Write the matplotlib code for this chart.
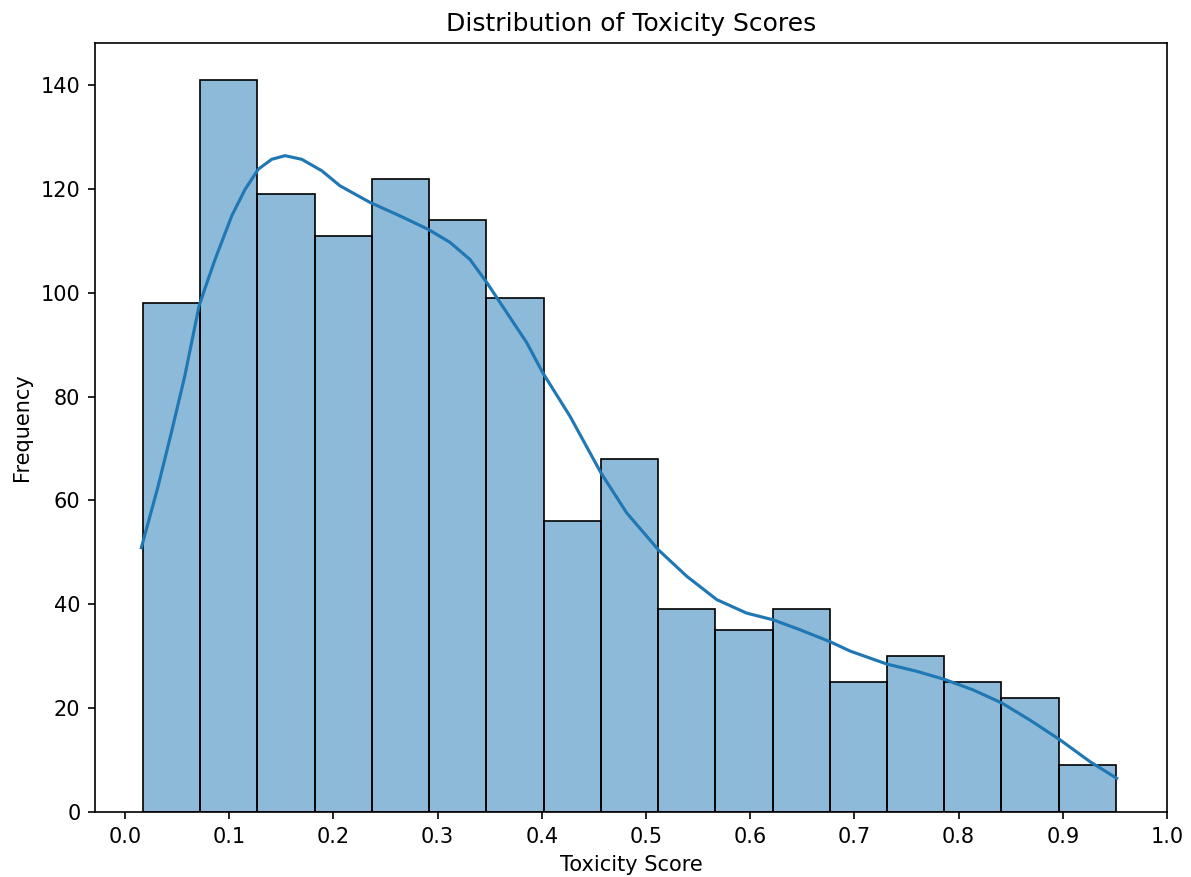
import numpy as np
import matplotlib
matplotlib.use("Agg")
import matplotlib.pyplot as plt

# histogram counts
counts = [98, 141, 119, 111, 122, 114, 99, 56, 68, 39, 35, 39, 25, 30, 25, 22, 9]
score_min = 0.0173
score_max = 0.951

# kde curve
kde_x = [0.0157, 0.0317, 0.0444, 0.0573, 0.0710, 0.0765, 0.0864, 0.1024, 0.1152, 0.1279,
         0.1408, 0.1536, 0.1696, 0.1888, 0.2063, 0.2351, 0.2639, 0.2911, 0.3119,
         0.3311, 0.3471, 0.3663, 0.3855, 0.4009, 0.4271, 0.4568, 0.4815, 0.5118,
         0.5391, 0.5679, 0.5966, 0.6222, 0.6478, 0.6766, 0.6958, 0.7310, 0.7598,
         0.7870, 0.8141, 0.8414, 0.8685, 0.8973, 0.9261, 0.9517]
kde_y = [50.9, 62.7, 73.0, 83.9, 97.4, 100.7, 106.4, 114.8, 119.9, 123.8,
         125.7, 126.4, 125.7, 123.5, 120.6, 117.4, 114.8, 112.2, 109.7,
         106.4, 102.0, 96.2, 90.4, 84.6, 76.2, 65.3, 57.6, 50.5,
         45.4, 40.9, 38.3, 37.0, 35.1, 32.8, 31.0, 28.5, 27.1,
         25.5, 23.5, 21.0, 17.7, 13.9, 9.7, 6.5]

edges = np.linspace(score_min, score_max, len(counts) + 1)

fig = plt.figure(figsize=(1191 / 150, 877 / 150), dpi=150)
ax = fig.add_axes([95 / 1191, 65 / 877, 1072 / 1191, 769 / 877])

ax.bar(edges[:-1], counts, width=np.diff(edges), align="edge",
       color="#1f77b4", alpha=0.5, edgecolor="none")
ax.bar(edges[:-1], counts, width=np.diff(edges), align="edge",
       fill=False, edgecolor="black", linewidth=0.8)
ax.plot(kde_x, kde_y, color="#1f77b4", linewidth=1.5)

ax.set_xticks(np.arange(0, 1.01, 0.1))
ax.set_xlim(-0.0288, 1.0)
ax.set_ylim(0, 148.1)
ax.set_title("Distribution of Toxicity Scores")
ax.set_xlabel("Toxicity Score")
ax.set_ylabel("Frequency")

fig.savefig("out.png", dpi=150)
